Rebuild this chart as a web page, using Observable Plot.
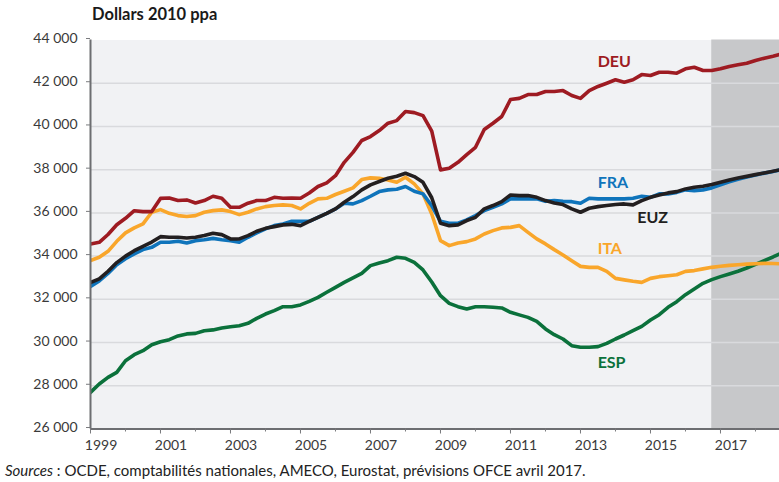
<!DOCTYPE html>
<html>
<head>
<meta charset="utf-8">
<script src="https://cdn.jsdelivr.net/npm/d3@7"></script>
<script src="https://cdn.jsdelivr.net/npm/@observablehq/plot@0.6"></script>
<style>
  body { margin: 0; background: #fff; font-family: Lato, "Open Sans", sans-serif; }
  #title { position: absolute; left: 92px; top: 5px; font-weight: bold; font-size: 16.5px; line-height: 1.2; color: #1a1a1a; }
  #chart { position: absolute; left: 0; top: 28px; }
  #caption { position: absolute; left: 5px; top: 461px; font-size: 15px; line-height: 1.2; color: #222; white-space: nowrap; }
</style>
</head>
<body>
<div id="title">Dollars 2010 ppa</div>
<div id="chart"></div>
<div id="caption"><i>Sources</i> : OCDE, comptabilités nationales, AMECO, Eurostat, prévisions OFCE avril 2017.</div>
<script>
// ---- Data (quarterly, 1999 Q1 – 2018 Q4), dollars 2010 ppa ----
const startYear = 1999;
const forecastStart = 2016.75;

const DEU = [34560, 34640, 35000, 35450, 35750, 36100, 36060, 36060, 36670, 36690,
  36570, 36600, 36460, 36570, 36770, 36680, 36260, 36260, 36450, 36570,
  36570, 36720, 36680, 36690, 36680, 36920, 37220, 37390, 37720, 38340,
  38800, 39350, 39530, 39810, 40150, 40270, 40690, 40640, 40500, 39780,
  37990, 38065, 38340, 38700, 39035, 39855, 40150, 40460, 41245, 41300,
  41475, 41475, 41615, 41615, 41660, 41430, 41300, 41660, 41850, 42000,
  42160, 42050, 42160, 42400, 42355, 42510, 42510, 42465, 42665, 42740,
  42590, 42590, 42665, 42775, 42850, 42925, 43050, 43160, 43250, 43350];

const FRA = [32590, 32850, 33200, 33600, 33880, 34100, 34300, 34405, 34640, 34640,
  34685, 34610, 34715, 34760, 34820, 34760, 34715, 34640, 34870, 35075,
  35260, 35410, 35490, 35610, 35610, 35610, 35795, 35980, 36185, 36445,
  36415, 36570, 36770, 36985, 37065, 37095, 37220, 37000, 36880, 36330,
  35610, 35520, 35520, 35675, 35880, 36105, 36260, 36415, 36650, 36650,
  36650, 36650, 36535, 36570, 36535, 36520, 36445, 36675, 36650, 36650,
  36650, 36650, 36675, 36770, 36720, 36880, 36880, 36950, 37065, 37030,
  37065, 37155, 37300, 37440, 37560, 37660, 37750, 37840, 37920, 38000];

const EUZ = [32780, 32950, 33300, 33700, 34000, 34250, 34450, 34650, 34900, 34870,
  34870, 34840, 34870, 34950, 35055, 34995, 34795, 34795, 34950, 35150,
  35285, 35365, 35445, 35470, 35410, 35610, 35795, 35980, 36185, 36490,
  36755, 37065, 37295, 37450, 37600, 37695, 37835, 37680, 37415, 36700,
  35520, 35410, 35445, 35645, 35795, 36185, 36340, 36520, 36830, 36800,
  36800, 36720, 36570, 36460, 36385, 36185, 36030, 36215, 36290, 36340,
  36385, 36415, 36370, 36570, 36720, 36830, 36925, 36985, 37110, 37185,
  37230, 37310, 37420, 37520, 37610, 37690, 37770, 37850, 37930, 38010];

const ITA = [33800, 33945, 34220, 34685, 35075, 35305, 35490, 36030, 36150, 35980,
  35875, 35830, 35875, 36030, 36105, 36140, 36060, 35920, 36030, 36185,
  36290, 36340, 36370, 36340, 36185, 36445, 36650, 36675, 36850, 37000,
  37155, 37540, 37620, 37600, 37525, 37415, 37650, 37340, 36880, 35950,
  34715, 34485, 34610, 34670, 34795, 35025, 35180, 35305, 35330, 35410,
  35100, 34795, 34565, 34300, 34055, 33790, 33525, 33480, 33480, 33295,
  32970, 32900, 32835, 32785, 32970, 33050, 33095, 33140, 33295, 33330,
  33410, 33480, 33530, 33570, 33600, 33630, 33650, 33665, 33660, 33640];

const ESP = [27695, 28080, 28390, 28620, 29160, 29440, 29625, 29900, 30040, 30135,
  30305, 30400, 30425, 30550, 30585, 30675, 30735, 30780, 30890, 31120,
  31320, 31475, 31660, 31660, 31740, 31905, 32090, 32325, 32555, 32785,
  32990, 33200, 33560, 33685, 33790, 33945, 33900, 33710, 33360, 32800,
  32170, 31815, 31660, 31555, 31660, 31660, 31630, 31600, 31400, 31280,
  31165, 30980, 30630, 30365, 30165, 29855, 29780, 29780, 29810, 29960,
  30165, 30350, 30550, 30750, 31045, 31290, 31630, 31890, 32215, 32480,
  32740, 32910, 33050, 33175, 33300, 33450, 33620, 33790, 33960, 34150];

const seriesNames = ["ESP", "ITA", "FRA", "DEU", "EUZ"];
const yTicks = [26000, 28000, 30000, 32000, 34000, 36000, 38000, 40000, 42000, 44000];
const xTickYears = [1999, 2000, 2001, 2002, 2003, 2004, 2005, 2006, 2007, 2008, 2009,
  2010, 2011, 2012, 2013, 2014, 2015, 2016, 2017, 2018];
const xLabelYears = [1999, 2001, 2003, 2005, 2007, 2009, 2011, 2013, 2015, 2017];

// ---- Build table ----
const values = {DEU, FRA, EUZ, ITA, ESP};
const rows = [];
for (const s of seriesNames) {
  values[s].forEach((v, i) => rows.push({s, t: startYear + i / 4, v}));
}

// ---- Styles ----
const colors = {DEU: "#9e1b22", FRA: "#0f74bb", EUZ: "#231f20", ITA: "#f9a62b", ESP: "#0b713b"};
const labelPos = [
  {s: "DEU", t: 2013.49, v: 43005},
  {s: "FRA", t: 2013.49, v: 37380},
  {s: "EUZ", t: 2014.62, v: 35760},
  {s: "ITA", t: 2013.49, v: 34330},
  {s: "ESP", t: 2013.49, v: 29070}
];
const xMax = 2018.686;
const axisColor = "#6d6e71";
const fmt = d => d3.format(",")(d).replace(",", "\u00a0");

const marks = [
  Plot.frame({fill: "#f1f2f4", stroke: null}),
  Plot.rect([{a: forecastStart, b: xMax, c: 26000, d: 44000}], {x1: "a", x2: "b", y1: "c", y2: "d", fill: "#c7c8ca"}),
  Plot.ruleY(yTicks.filter(d => d > 26000 && d < 44000), {stroke: "#d9dadd", strokeWidth: 1.5})
];
for (const s of seriesNames) {
  marks.push(Plot.line(rows.filter(r => r.s === s), {
    x: "t", y: "v", stroke: colors[s], strokeWidth: 3.6, clip: true
  }));
}
marks.push(
  Plot.text(labelPos, {x: "t", y: "v", text: "s", fill: d => colors[d.s], textAnchor: "start",
    fontSize: 16, fontWeight: "bold"}),
  Plot.ruleX([startYear], {stroke: axisColor, strokeWidth: 2}),
  Plot.ruleY([26000], {stroke: axisColor, strokeWidth: 2}),
  Plot.axisY({ticks: yTicks, tickSize: 4, tickPadding: 9, tickFormat: fmt, label: null,
    stroke: "#7a7b7e", fill: "#3a3a3a", fontSize: 14, dy: -1.5}),
  Plot.axisX({ticks: xTickYears, tickSize: 3, tickFormat: () => "", label: null, stroke: "#7a7b7e"}),
  Plot.axisX({ticks: xLabelYears, tickSize: 5, tickFormat: () => "", label: null, stroke: "#7a7b7e"}),
  Plot.axisX({ticks: xLabelYears, tickSize: 0, tickPadding: 11, dx: 10.5, tickFormat: d => String(d),
    label: null, fill: "#3a3a3a", fontSize: 14})
);

const chart = Plot.plot({
  width: 779,
  height: 426,
  marginLeft: 90,
  marginRight: 0,
  marginTop: 11.5,
  marginBottom: 25.5,
  x: {domain: [startYear, xMax]},
  y: {domain: [26000, 44000]},
  style: {fontFamily: "Lato, 'Open Sans', sans-serif", fontSize: "14px", color: "#3a3a3a", background: "transparent", overflow: "visible"},
  marks
});
document.getElementById("chart").appendChild(chart);
</script>
</body>
</html>
